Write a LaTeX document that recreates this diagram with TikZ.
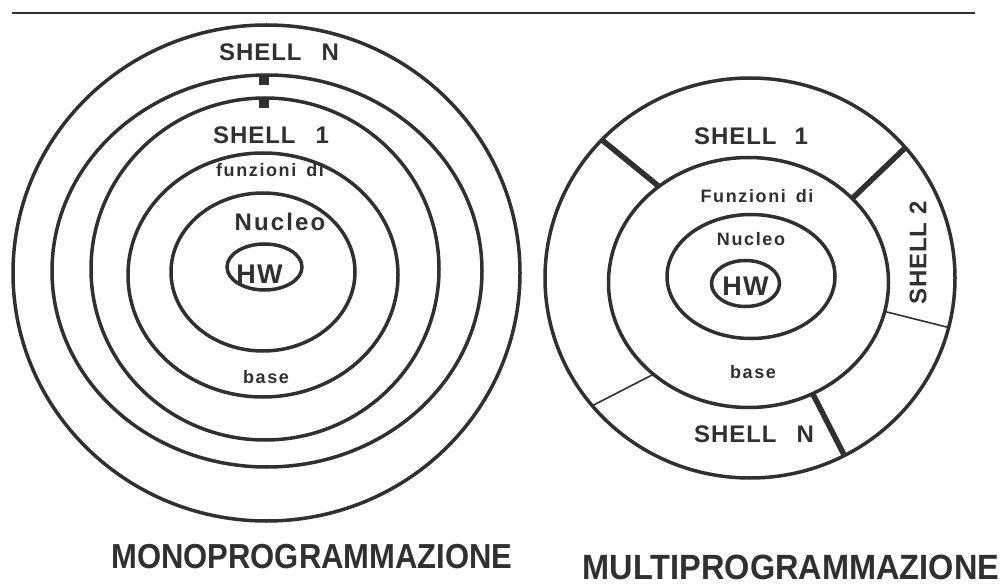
\documentclass[tikz,border=0pt]{standalone}
\usepackage{fontspec}
\setmainfont{Liberation Sans}
\newfontfamily\trkA{Liberation Sans}[LetterSpace=4]
\newfontfamily\trkB{Liberation Sans}[LetterSpace=9]
\newfontfamily\plain{Liberation Sans}
\usetikzlibrary{shapes.geometric}
\definecolor{ink}{RGB}{48,48,48}
\begin{document}
\begin{tikzpicture}[x=1pt,y=-1pt,
  ring/.style={draw=ink, line width=3.5pt, ellipse, inner sep=0pt, outer sep=0pt},
  thickdiv/.style={draw=ink, line width=5.5pt},
  thindiv/.style={draw=ink, line width=1.6pt},
  lab/.style={text=ink, inner sep=0pt, outer sep=0pt},
  big/.style={lab, font=\trkA\bfseries\fontsize{24}{24}\selectfont},
  small/.style={lab, font=\trkB\bfseries\fontsize{18}{18}\selectfont},
  hw/.style={lab, font=\trkA\bfseries\fontsize{27}{27}\selectfont},
  title/.style={lab, font=\plain\bfseries\fontsize{31}{31}\selectfont}]
\useasboundingbox (0,0) rectangle (1007,588);
\fill[white] (0,0) rectangle (1007,588);
% top rule
\coordinate (ruleA) at (12,13);
\coordinate (ruleB) at (975,13);
\draw[ink, line width=2pt] (ruleA) -- (ruleB);

% ---------- left: monoprogrammazione ----------
\node[ring, minimum width=507pt, minimum height=496pt] (L1) at (266.5,273) {};
\node[ring, minimum width=430pt, minimum height=392pt] (L2) at (267,271) {};
\node[ring, minimum width=348pt, minimum height=342pt] (L3) at (265,269) {};
\node[ring, minimum width=270pt, minimum height=244pt] (L4) at (263,275) {};
\node[ring, minimum width=184pt, minimum height=158pt] (L5) at (263,272) {};
\node[ring, minimum width=75pt, minimum height=46pt] (L6) at (264.5,267) {};
\fill[ink] (258.5,75.5) rectangle (268.5,85);
\fill[ink] (258.5,97.5) rectangle (268.5,108.5);

\node[big] (lsN) at (279,52) {SHELL\hspace{20pt}N};
\node[big] (ls1) at (271,135) {SHELL\hspace{20pt}1};
\node[small] (lfz) at (270,170) {funzioni\hspace{10pt}di};
\node[big, font=\trkB\bfseries\fontsize{24}{24}\selectfont] (lnu) at (280,222) {Nucleo};
\node[hw] (lhw) at (259.5,274) {HW};
\node[small] (lba) at (266,377) {base};

% ---------- right: multiprogrammazione ----------
\node[ring, minimum width=410pt, minimum height=400pt] (R1) at (750,278) {};
\node[ring, minimum width=280pt, minimum height=250pt] (R2) at (748.5,282.5) {};
\node[ring, minimum width=168pt, minimum height=124pt] (R3) at (751,276.5) {};
\node[ring, minimum width=68pt, minimum height=46pt] (R4) at (745.5,283.5) {};

\draw[thickdiv] (R2.133) -- (R1.137);
\draw[thickdiv] (R2.39.6) -- (R1.40.5);
\draw[thindiv] (R2.-12.3) -- (R1.-14.8);
\draw[thindiv] (R2.224.4) -- (R1.219.9);
\draw[thickdiv] (R2.-60.8) -- (R1.-62.3);

\node[big] (rs1) at (751,136) {SHELL\hspace{18pt}1};
\node[small] (rfz) at (757,196) {Funzioni\hspace{10pt}di};
\node[small] (rnu) at (751,239) {Nucleo};
\node[hw] (rhw) at (745.5,286) {HW};
\node[small] (rba) at (753,372) {base};
\node[big] (rsN) at (754,434) {SHELL\hspace{20pt}N};
\node[big, rotate=90] (rs2) at (918,253) {SHELL\hspace{8pt}2};

% ---------- titles ----------
\node[title] (tmono) at (312,557) {\scalebox{1}[1.12]{MONOPROGRAMMAZIONE}};
\node[title, font=\plain\bfseries\fontsize{32.5}{32.5}\selectfont] (tmulti) at (791,567) {\scalebox{1.0}[1.08]{MULTIPROGRAMMAZIONE}};
\end{tikzpicture}
\end{document}
